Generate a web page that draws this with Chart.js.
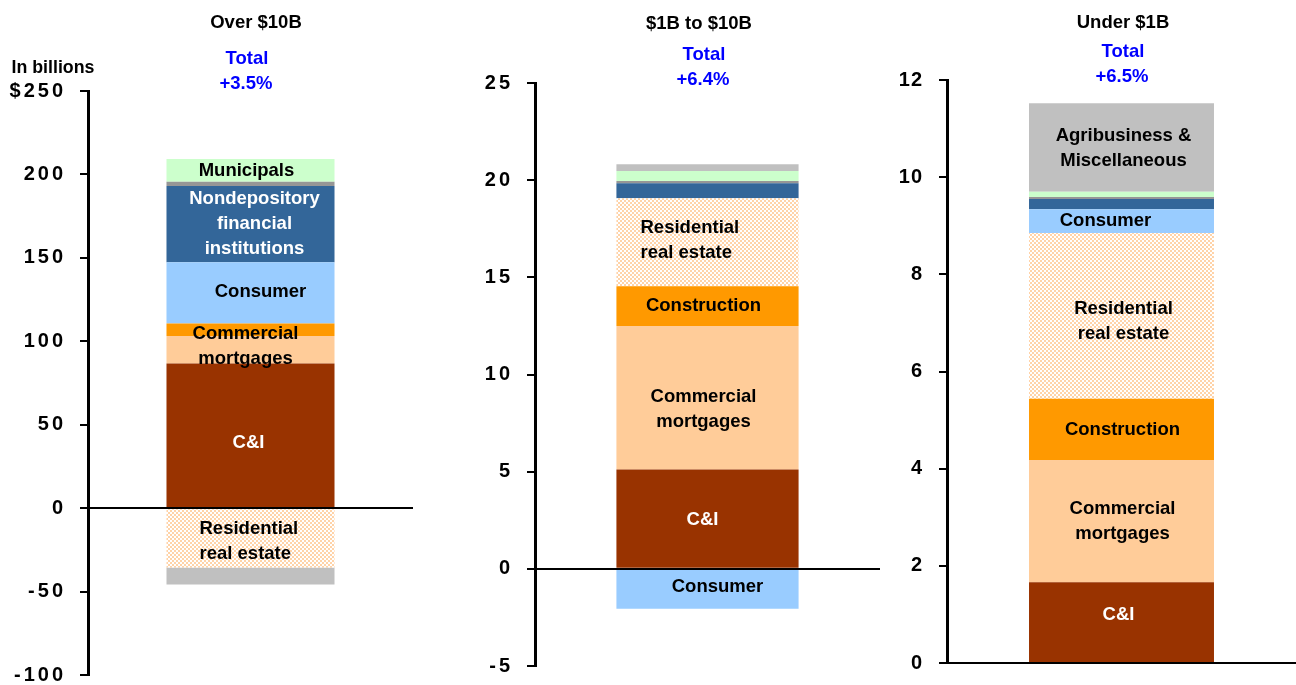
<!DOCTYPE html>
<html>
<head>
<meta charset="utf-8">
<script src="https://cdn.jsdelivr.net/npm/chart.js@4.4.0/dist/chart.umd.min.js"></script>
<style>
  body { margin: 0; background: #fff; width: 1296px; height: 685px; position: relative; overflow: hidden; font-family: "Liberation Sans", Arial, sans-serif; }
  canvas { position: absolute; top: 0; }
  .txt { position: absolute; transform: translate(-50%, -50%); font-weight: bold; font-size: 18.5px; white-space: nowrap; color: #000; }
  .blue { color: #0000ff; }
</style>
</head>
<body>
<canvas id="c1" width="430" height="720" style="left:0px"></canvas>
<canvas id="c2" width="440" height="720" style="left:440px"></canvas>
<canvas id="c3" width="416" height="720" style="left:880px"></canvas>
<div class="txt" style="left:53px;top:67px;font-size:17.8px">In billions</div>
<script>
// stacking order, bottom to top
const seriesNames = [
  'C&I',
  'Commercial mortgages',
  'Construction',
  'Residential real estate',
  'Consumer',
  'Nondepository financial institutions',
  'Other',
  'Municipals',
  'Agribusiness & Miscellaneous'
]

// change in loans, $ billions
const over10B = [86.7, 16.4, 7.6, -35.6, 36.6, 45.7, 2.6, 13.6, -10.1]
const oneTo10B = [5.11, 7.39, 2.04, 4.53, -2.06, 0.77, 0.12, 0.51, 0.35]
const under1B = [1.66, 2.52, 1.26, 3.41, 0.49, 0.21, 0.04, 0.11, 1.82]

const panelTitles = ['Over $10B', '$1B to $10B', 'Under $1B']
const totalGrowth = ['+3.5%', '+6.4%', '+6.5%']

const font = '"Liberation Sans", Arial, sans-serif'

// residential real estate uses a dotted fill
function dotPattern() {
  const c = document.createElement('canvas')
  c.width = 4
  c.height = 4
  const g = c.getContext('2d')
  g.fillStyle = '#fff'
  g.fillRect(0, 0, 4, 4)
  g.fillStyle = '#ffd3a8'
  g.fillRect(0, 0, 2, 2)
  g.fillRect(2, 2, 2, 2)
  return g.createPattern(c, 'repeat')
}

const colors = ['#993300', '#ffcc99', '#ff9900', dotPattern(), '#99ccff', '#336699', '#969696', '#ccffcc', '#c0c0c0']

// headers above each bar
const headerPos = [
  { title: [256, 22], total: [247, 58], pct: [246, 83] },
  { title: [699, 23], total: [704, 54], pct: [703, 79] },
  { title: [1123, 22], total: [1123, 51], pct: [1122, 76] }
]
headerPos.forEach((p, i) => {
  const add = (text, xy, cls) => {
    const d = document.createElement('div')
    d.className = 'txt ' + cls
    d.style.left = xy[0] + 'px'
    d.style.top = xy[1] + 'px'
    d.textContent = text
    document.body.appendChild(d)
  }
  add(panelTitles[i], p.title, '')
  add('Total', p.total, 'blue')
  add(totalGrowth[i], p.pct, 'blue')
})

const segmentLabels = {
  id: 'segmentLabels',
  beforeDraw(chart, args, o) {
    chart.ctx.letterSpacing = o.spacing
  },
  beforeDatasetsDraw(chart) {
    chart.ctx.letterSpacing = '0px'
  },
  afterDatasetsDraw(chart, args, o) {
    const ctx = chart.ctx
    const area = chart.chartArea
    const y0 = Math.round(chart.scales.y.getPixelForValue(0))
    ctx.save()
    ctx.strokeStyle = '#000'
    ctx.lineWidth = 2
    ctx.beginPath()
    ctx.moveTo(area.left - 8, y0)
    ctx.lineTo(area.right, y0)
    ctx.stroke()

    ctx.font = `bold 18.5px ${font}`
    ctx.textBaseline = 'middle'
    o.items.forEach((item) => {
      const bar = chart.getDatasetMeta(item.series).data[0]
      const cy = (bar.y + bar.base) / 2 + (item.dy || 0)
      const lines = item.text.split('\n')
      ctx.fillStyle = item.color || '#000'
      ctx.textAlign = item.align || 'center'
      lines.forEach((line, i) => {
        ctx.fillText(line, bar.x + (item.dx || 0), cy + (i - (lines.length - 1) / 2) * 25)
      })
    })
    ctx.restore()
  }
}

function makePanel(id, values, opts) {
  new Chart(document.getElementById(id), {
    type: 'bar',
    data: {
      labels: [''],
      datasets: seriesNames.map((name, i) => ({
        label: name,
        data: [values[i]],
        backgroundColor: colors[i],
        borderWidth: 0,
        categoryPercentage: 1,
        barPercentage: opts.barPct
      }))
    },
    options: {
      responsive: false,
      animation: false,
      layout: { padding: opts.padding },
      plugins: {
        legend: { display: false },
        tooltip: { enabled: false },
        segmentLabels: { items: opts.labels, spacing: opts.spacing }
      },
      scales: {
        x: { stacked: true, display: false },
        y: {
          stacked: true,
          min: opts.min,
          max: opts.max,
          afterFit: (scale) => {
            scale.width = opts.axisWidth
          },
          border: { color: '#000', width: 3 },
          grid: { drawOnChartArea: false, tickLength: 8, lineWidth: 2, tickColor: '#000' },
          ticks: {
            stepSize: opts.step,
            autoSkip: false,
            color: '#000',
            padding: opts.tickPad,
            font: { family: font, size: 20, weight: 'bold', lineHeight: 1 },
            callback: opts.tickFormat || ((v) => v)
          }
        }
      }
    },
    plugins: [segmentLabels]
  })
}

// canvases are 720 tall, so bottom padding is measured from 720
makePanel('c1', over10B, {
  min: -100, max: 250, step: 50,
  axisWidth: 88,
  padding: { top: 91, bottom: 45, left: 0, right: 17 },
  barPct: 0.517,
  spacing: '3px',
  tickPad: 14,
  tickFormat: (v) => (v === 250 ? '$' + v : v),
  labels: [
    { series: 7, text: 'Municipals', dx: -4 },
    { series: 5, text: 'Nondepository\nfinancial\ninstitutions', dx: 4, color: '#fff' },
    { series: 4, text: 'Consumer', dx: 10, dy: -1 },
    { series: 1, text: 'Commercial\nmortgages', dx: -5, dy: -3 },
    { series: 0, text: 'C&I', dx: -2, dy: 8, color: '#fff' },
    { series: 3, text: 'Residential\nreal estate', dx: -51, dy: 3, align: 'left' }
  ]
})

makePanel('c2', oneTo10B, {
  min: -5, max: 25, step: 5,
  axisWidth: 95,
  padding: { top: 83, bottom: 54, left: 0, right: 0 },
  barPct: 0.528,
  spacing: '3px',
  tickPad: 14,
  labels: [
    { series: 3, text: 'Residential\nreal estate', dx: -67, dy: -2, align: 'left' },
    { series: 2, text: 'Construction', dx: -4 },
    { series: 1, text: 'Commercial\nmortgages', dx: -4, dy: 12 },
    { series: 0, text: 'C&I', dx: -5, dy: 1, color: '#fff' },
    { series: 4, text: 'Consumer', dx: 10, dy: -2 }
  ]
})

makePanel('c3', under1B, {
  min: 0, max: 12, step: 2,
  axisWidth: 67,
  padding: { top: 80, bottom: 57, left: 0, right: 0 },
  barPct: 0.53,
  spacing: '1px',
  tickPad: 16,
  labels: [
    { series: 8, text: 'Agribusiness &\nMiscellaneous', dx: 2, dy: 1 },
    { series: 4, text: 'Consumer', dx: -16 },
    { series: 3, text: 'Residential\nreal estate', dx: 2, dy: 6 },
    { series: 2, text: 'Construction', dx: 1, dy: 1 },
    { series: 1, text: 'Commercial\nmortgages', dx: 1 },
    { series: 0, text: 'C&I', dx: -3, dy: -7, color: '#fff' }
  ]
})
</script>
</body>
</html>
